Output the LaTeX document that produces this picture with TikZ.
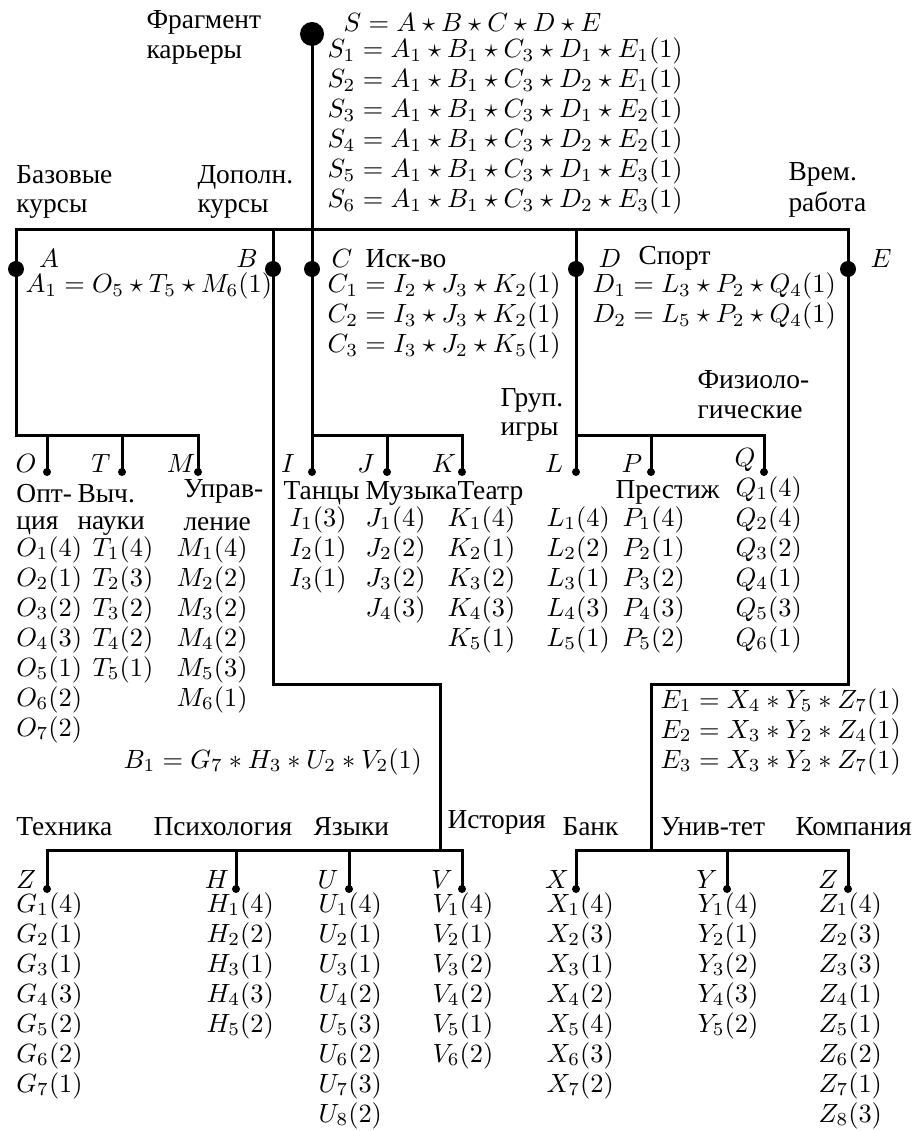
\RequirePackage{fix-cm}
\documentclass[tikz,border=0pt]{standalone}
\usepackage[no-math]{fontspec}
\setmainfont{Liberation Serif}[Scale=1.04]
\tikzset{
	rootdot/.style={circle, fill=black, inner sep=0pt, minimum size=9.6pt},
	bigdot/.style ={circle, fill=black, inner sep=0pt, minimum size=6.4pt},
	leaf/.style   ={circle, fill=black, inner sep=0pt, minimum size=3.2pt},
	% text placed by its baseline
	lbl/.style    ={anchor=base west, inner sep=0pt},
	var/.style    ={anchor=base, inner sep=0pt},
	branch/.style ={line width=1.2pt},
}
\begin{document}
\begin{tikzpicture}[x=0.4pt, y=-0.4pt, every node/.style={font=\fontsize{10.55pt}{12pt}\selectfont}]
	\useasboundingbox (0,0) rectangle (920,1131);
	% levels of the tree
	\coordinate (tb) at (0,230);
	\coordinate (mid) at (0,435);
	\coordinate (bturn) at (440,684);
	\coordinate (eturn) at (651,684);
	\coordinate (bot) at (0,850);
	% root
	\node[rootdot] (s) at (312,34) {};
	\node[lbl] (frag1) at (146,29) {Фрагмент};
	\node[lbl] (frag2) at (146,59) {карьеры};
	\node[lbl] (sf) at (343,32) {$S=A\star B\star C\star D\star E$};
	\foreach \dd/\ee [count=\r] in {1/1,2/1,1/2,2/2,1/3,2/3}
		\node[lbl] (s\r) at (327,28+30*\r) {$S_{\r}=A_1\star B_1\star C_3\star D_{\dd}\star E_{\ee}(1)$};
	\node[lbl] (baz1) at (16,184) {Базовые};
	\node[lbl] (baz2) at (16,213) {курсы};
	\node[lbl] (dop1) at (197,184) {Дополн.};
	\node[lbl] (dop2) at (197,213) {курсы};
	\node[lbl] (vr1) at (788,181) {Врем.};
	\node[lbl] (vr2) at (788,212) {работа};
	% first level
	\node[bigdot] (a) at (16,269) {};
	\node[bigdot] (b) at (273,269) {};
	\node[bigdot] (c) at (312,269) {};
	\node[bigdot] (d) at (576,269) {};
	\node[bigdot] (e) at (848,269) {};
	\node[var] (la) at (49,268) {$A$};
	\node[var] (lb) at (247,268) {$B$};
	\node[var] (lc) at (342,268) {$C$};
	\node[var] (ld) at (610,268) {$D$};
	\node[var] (le) at (881,268) {$E$};
	\node[lbl] (isk) at (365,268) {Иск-во};
	\node[lbl] (sport) at (638,265) {Спорт};
	\node[lbl] (a1) at (25,293) {$A_1=O_5\star T_5\star M_6(1)$};
	\foreach \ii/\jj/\kk [count=\r] in {2/3/2,3/3/2,3/2/5}
		\node[lbl] (c\r) at (327,263+30*\r) {$C_{\r}=I_{\ii}\star J_{\jj}\star K_{\kk}(1)$};
	\foreach \ll [count=\r] in {3,5}
		\node[lbl] (d\r) at (592,263+30*\r) {$D_{\r}=L_{\ll}\star P_2\star Q_4(1)$};
	\foreach \xx/\yy/\zz [count=\r] in {4/5/7,3/2/4,3/2/7}
		\node[lbl] (e\r) at (660,678+30*\r) {$E_{\r}=X_{\xx}*Y_{\yy}*Z_{\zz}(1)$};
	\node[lbl] (b1) at (123,768) {$B_1=G_7*H_3*U_2*V_2(1)$};
	% second level, upper part
	\node[leaf] (o) at (47,472) {};
	\node[leaf] (t) at (122,472) {};
	\node[leaf] (m) at (198,472) {};
	\node[leaf] (i) at (312,472) {};
	\node[leaf] (j) at (387,472) {};
	\node[leaf] (k) at (462,472) {};
	\node[leaf] (l) at (576,472) {};
	\node[leaf] (p) at (651,472) {};
	\node[leaf] (q) at (764,472) {};
	\node[var] (lo) at (26,472) {$O$};
	\node[var] (lt) at (101,472) {$T$};
	\node[var] (lm) at (181,472) {$M$};
	\node[var] (li) at (288,472) {$I$};
	\node[var] (lj) at (366,472) {$J$};
	\node[var] (lk) at (444,472) {$K$};
	\node[var] (ll) at (554,472) {$L$};
	\node[var] (lp) at (632,472) {$P$};
	\node[var] (lq) at (745,466) {$Q$};
	\node[lbl] (grp1) at (500,407) {Груп.};
	\node[lbl] (grp2) at (500,435) {игры};
	\node[lbl] (fiz1) at (697,388) {Физиоло-};
	\node[lbl] (fiz2) at (697,419) {гические};
	\node[lbl] (opt1) at (16,502) {Опт-};
	\node[lbl] (opt2) at (16,529) {ция};
	\node[lbl] (vych1) at (77,502) {Выч.};
	\node[lbl] (vych2) at (77,529) {науки};
	\node[lbl] (upr1) at (183,497) {Управ-};
	\node[lbl] (upr2) at (183,530) {ление};
	\node[lbl] (tan) at (283,499) {Танцы};
	\node[lbl] (muz) at (365,499) {Музыка};
	\node[lbl] (teatr) at (457,499) {Театр};
	\node[lbl] (prest) at (615,498) {Престиж};
	\foreach \w [count=\r] in {4,1,2,3,1,2,2} \node[lbl] (o\r) at (16,526+30*\r) {$O_{\r}(\w)$};
	\foreach \w [count=\r] in {4,3,2,2,1} \node[lbl] (t\r) at (92,526+30*\r) {$T_{\r}(\w)$};
	\foreach \w [count=\r] in {4,2,2,2,3,1} \node[lbl] (m\r) at (176,526+30*\r) {$M_{\r}(\w)$};
	\foreach \w [count=\r] in {3,1,1} \node[lbl] (i\r) at (289,496+30*\r) {$I_{\r}(\w)$};
	\foreach \w [count=\r] in {4,2,2,3} \node[lbl] (j\r) at (365,496+30*\r) {$J_{\r}(\w)$};
	\foreach \w [count=\r] in {4,1,2,3,1} \node[lbl] (k\r) at (447,496+30*\r) {$K_{\r}(\w)$};
	\foreach \w [count=\r] in {4,2,1,3,1} \node[lbl] (l\r) at (546,496+30*\r) {$L_{\r}(\w)$};
	\foreach \w [count=\r] in {4,1,2,3,2} \node[lbl] (p\r) at (622,496+30*\r) {$P_{\r}(\w)$};
	\foreach \w [count=\r] in {4,4,2,1,3,1} \node[lbl] (q\r) at (735,466+30*\r) {$Q_{\r}(\w)$};
	% second level, lower part
	\node[leaf] (g) at (47,889) {};
	\node[leaf] (h) at (236,889) {};
	\node[leaf] (u) at (349,889) {};
	\node[leaf] (v) at (462,889) {};
	\node[leaf] (x) at (576,889) {};
	\node[leaf] (y) at (727,889) {};
	\node[leaf] (z) at (848,889) {};
	\node[var] (lg) at (26,888) {$Z$};
	\node[var] (lh) at (217,888) {$H$};
	\node[var] (lu) at (328,888) {$U$};
	\node[var] (lv) at (442,888) {$V$};
	\node[var] (lx) at (557,888) {$X$};
	\node[var] (ly) at (707,888) {$Y$};
	\node[var] (lz) at (828,888) {$Z$};
	\node[lbl] (tech) at (16,835) {Техника};
	\node[lbl] (psy) at (153,835) {Психология};
	\node[lbl] (lang) at (313,835) {Языки};
	\node[lbl] (hist) at (447,828) {История};
	\node[lbl] (bank) at (562,835) {Банк};
	\node[lbl] (univ) at (660,835) {Унив-тет};
	\node[lbl] (comp) at (795,835) {Компания};
	\foreach \w [count=\r] in {4,1,1,3,2,2,1} \node[lbl] (g\r) at (16,882+30*\r) {$G_{\r}(\w)$};
	\foreach \w [count=\r] in {4,2,1,3,2} \node[lbl] (h\r) at (206,882+30*\r) {$H_{\r}(\w)$};
	\foreach \w [count=\r] in {4,1,1,2,3,2,3,2} \node[lbl] (u\r) at (318,882+30*\r) {$U_{\r}(\w)$};
	\foreach \w [count=\r] in {4,1,2,2,1,2} \node[lbl] (v\r) at (432,882+30*\r) {$V_{\r}(\w)$};
	\foreach \w [count=\r] in {4,3,1,2,4,3,2} \node[lbl] (x\r) at (546,882+30*\r) {$X_{\r}(\w)$};
	\foreach \w [count=\r] in {4,1,2,3,2} \node[lbl] (y\r) at (697,882+30*\r) {$Y_{\r}(\w)$};
	\foreach \w [count=\r] in {4,3,3,1,1,2,1,3} \node[lbl] (z\r) at (818,882+30*\r) {$Z_{\r}(\w)$};
	% branches
	\draw[branch] (s.center) -- (c.center) -- (i.center);
	\draw[branch] (a.center) -- (a |- tb) -- (e |- tb) -- (e.center);
	\draw[branch] (b |- tb) -- (b.center);
	\draw[branch] (d |- tb) -- (d.center) -- (l.center);
	\draw[branch] (a.center) -- (a |- mid) -- (m |- mid) -- (m.center);
	\foreach \n in {o,t} \draw[branch] (\n |- mid) -- (\n.center);
	\draw[branch] (c |- mid) -- (k |- mid) -- (k.center);
	\draw[branch] (j |- mid) -- (j.center);
	\draw[branch] (l |- mid) -- (q |- mid) -- (q.center);
	\draw[branch] (p |- mid) -- (p.center);
	\draw[branch] (b.center) |- (bturn) -- (bturn |- bot);
	\draw[branch] (g.center) -- (g |- bot) -- (v |- bot) -- (v.center);
	\foreach \n in {h,u} \draw[branch] (\n |- bot) -- (\n.center);
	\draw[branch] (e.center) |- (eturn) -- (eturn |- bot);
	\draw[branch] (x.center) -- (x |- bot) -- (z |- bot) -- (z.center);
	\draw[branch] (y |- bot) -- (y.center);
\end{tikzpicture}
\end{document}
